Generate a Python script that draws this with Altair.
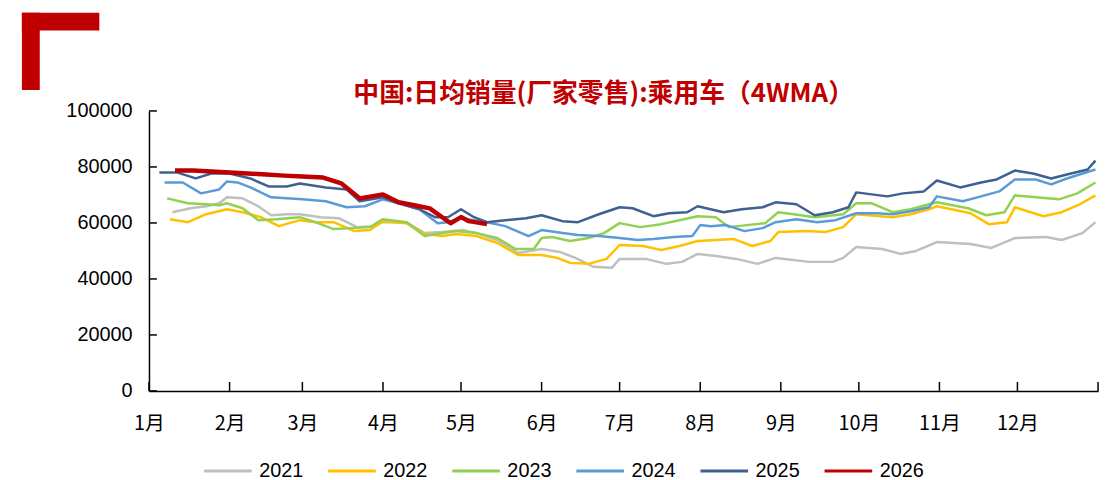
import altair as alt
import pandas as pd

# ---------------- data (day offset from 1 Jan, weekly 4WMA value) ----------------
years = ["2021", "2022", "2023", "2024", "2025", "2026"]
colors = ["#BFBFBF", "#FFC000", "#92D050", "#5B9BD5", "#3E6191", "#C00000"]

d2021 = [9, 16, 22, 27, 30, 36, 42, 47, 53, 58, 66, 73, 80, 86, 90, 99, 106, 113, 121, 126,
         134, 142, 151, 158, 164, 171, 178, 181, 191, 199, 205, 211, 218, 226, 234, 241, 254, 263, 267, 272,
         282, 289, 295, 303, 316, 324, 333, 345, 351, 359, 364]
v2021 = [63830, 65250, 65960, 67020, 69150, 68790, 65960, 62760, 63120, 63120, 62060, 61700, 58510, 58860,
         60280, 60280, 56380, 56740, 57450, 56380, 53900, 49290, 50710, 49640, 47520, 44330, 43970, 47160,
         47160, 45390, 46100, 48940, 48230, 47160, 45390, 47520, 46100, 46100, 47520, 51420, 50710, 48940,
         50000, 53190, 52480, 51060, 54610, 54960, 53900, 56380, 60280]

d2022 = [8, 15, 22, 30, 36, 43, 50, 58, 64, 71, 79, 85, 90, 99, 106, 113, 118, 126, 134, 142,
         151, 157, 162, 169, 176, 181, 190, 197, 204, 211, 218, 225, 232, 239, 242, 253, 260, 267, 272, 286,
         293, 300, 303, 316, 323, 330, 333, 344, 351, 358, 364]
v2022 = [61350, 60280, 63120, 64890, 63830, 62060, 58860, 60990, 60280, 60280, 57090, 57450, 60640, 59930,
         56030, 55320, 56030, 55320, 52840, 48580, 48580, 47520, 45740, 45390, 47160, 52130, 51770, 50350,
         51770, 53540, 53900, 54250, 51770, 53540, 56740, 57090, 56740, 58510, 63120, 62060, 63120, 64890,
         65960, 63470, 59570, 60280, 65600, 62410, 63830, 66670, 69860]

d2023 = [7, 15, 22, 27, 30, 36, 42, 49, 58, 64, 71, 78, 85, 90, 99, 106, 113, 118, 126, 134,
         141, 148, 151, 155, 162, 169, 175, 181, 189, 197, 204, 211, 218, 223, 230, 237, 242, 248, 256, 267,
         272, 278, 286, 293, 300, 303, 315, 322, 329, 333, 350, 357, 364]
v2023 = [68790, 67020, 66670, 66310, 67020, 65250, 60990, 61350, 62060, 60280, 57800, 58150, 58510, 61350,
         60280, 55320, 56380, 57090, 56380, 54610, 50710, 50710, 54610, 54960, 53540, 54610, 56380, 59930,
         58510, 59570, 60990, 62410, 62060, 58510, 59220, 59930, 63830, 63120, 62060, 63120, 67020, 67020,
         63830, 64890, 66670, 67370, 65250, 62760, 63830, 69860, 68440, 70570, 74470]

d2024 = [6, 13, 20, 27, 30, 34, 39, 47, 59, 68, 76, 83, 90, 96, 104, 111, 115, 120, 130, 137,
         146, 151, 159, 165, 173, 181, 188, 194, 202, 209, 212, 216, 222, 229, 236, 241, 249, 257, 264, 272,
         280, 286, 293, 300, 303, 313, 320, 327, 333, 341, 347, 353, 364]
v2024 = [74470, 74470, 70570, 71980, 74820, 74470, 72690, 69150, 68440, 67730, 65600, 65960, 68440, 67020,
         64890, 59930, 60280, 61700, 60280, 58860, 55320, 57450, 56380, 55670, 55320, 54610, 53900, 54250,
         54960, 55320, 59230, 58860, 59230, 57090, 58150, 60280, 61350, 60280, 60990, 63470, 63470, 63120,
         64180, 65600, 69500, 67730, 69500, 71270, 75530, 75530, 73760, 75880, 79080]

d2025 = [4, 11, 18, 24, 31, 39, 46, 53, 58, 63, 68, 76, 81, 90, 96, 104, 110, 115, 120, 125,
         130, 137, 145, 151, 159, 165, 173, 181, 186, 194, 200, 207, 211, 221, 228, 236, 241, 249, 256, 263,
         269, 272, 284, 290, 298, 303, 312, 320, 326, 333, 340, 347, 353, 361, 364]
v2025 = [78000, 78000, 75900, 77660, 77660, 75900, 73050, 73050, 74110, 73400, 72700, 71980, 67730, 69150,
         67020, 64890, 62060, 62060, 64890, 62060, 60280, 60990, 61700, 62760, 60640, 60280, 63120, 65600,
         65240, 62410, 63470, 63830, 65960, 63830, 64890, 65600, 67370, 66670, 62760, 63830, 65600, 70920,
         69500, 70570, 71270, 75180, 72690, 74470, 75530, 78720, 77660, 75880, 77300, 79080, 82270]

d2026 = [10, 17, 24, 31, 38, 45, 52, 59, 67, 74, 81, 90, 96, 102, 108, 116, 120, 123, 130]
v2026 = [78720, 78700, 78400, 78000, 77700, 77300, 76900, 76600, 76200, 74100, 68790, 70200, 67400, 66300,
         65200, 59900, 62100, 60640, 59570]

month_starts = ["2021-01-01", "2021-02-01", "2021-03-01", "2021-04-01", "2021-05-01", "2021-06-01",
                "2021-07-01", "2021-08-01", "2021-09-01", "2021-10-01", "2021-11-01", "2021-12-01",
                "2022-01-01"]
y_ticks = [0, 20000, 40000, 60000, 80000, 100000]
title_text = "中国:日均销量(厂家零售):乘用车（4WMA）"

# ---------------- table ----------------
base = pd.Timestamp("2021-01-01")
rows = []
for yr, ds, vs in zip(years, [d2021, d2022, d2023, d2024, d2025, d2026],
                      [v2021, v2022, v2023, v2024, v2025, v2026]):
    for d, v in zip(ds, vs):
        rows.append({"year": yr, "date": (base + pd.Timedelta(days=d)).strftime("%Y-%m-%d"), "value": v})
df = pd.DataFrame(rows)
df_old = df[df["year"] != "2026"]
df_new = df[df["year"] == "2026"]

W, H = 956, 282
CJK = "Noto Sans CJK SC, Noto Sans, sans-serif"
LAT = "Liberation Sans, Arial, sans-serif"

x_scale = alt.Scale(type="utc",
                    domain=[alt.DateTime(year=2021, month=1, date=1, utc=True),
                            alt.DateTime(year=2022, month=1, date=1, utc=True)])
y_scale = alt.Scale(domain=[0, 100000], nice=False, zero=True)

x_axis = alt.Axis(values=[alt.DateTime(year=2021, month=m, date=1, utc=True) for m in range(1, 13)],
                  labelExpr="utcFormat(datum.value, '%-m') + '月'", title=None, grid=False,
                  ticks=False, tickSize=0, labelFlush=False, labelOverlap=False,
                  labelPadding=23, labelFont=CJK, labelFontSize=20, labelColor="#000000",
                  domainColor="#000000", domainWidth=1.5)
y_axis = alt.Axis(values=y_ticks, format="d", title=None, grid=False, ticks=False, tickSize=0,
                  labelPadding=17, labelFont=LAT,
                  labelFontSize=20, labelColor="#000000", domainColor="#000000", domainWidth=1.5)

legend = alt.Legend(orient="none", legendX=54, legendY=337, direction="horizontal", columns=6,
                    title=None, symbolType="stroke", symbolSize=2304, symbolStrokeWidth=3,
                    labelFont=LAT, labelFontSize=20, labelColor="#000000", labelOffset=6,
                    columnPadding=18, symbolOpacity=1)

X = alt.X("date:T", scale=x_scale, axis=x_axis)
Y = alt.Y("value:Q", scale=y_scale, axis=y_axis)
C = alt.Color("year:N", scale=alt.Scale(domain=years, range=colors), legend=legend)

lines_old = alt.Chart(df_old).mark_line(strokeWidth=2.5, strokeJoin="round").encode(x=X, y=Y, color=C)
lines_new = alt.Chart(df_new).mark_line(strokeWidth=4.5, strokeJoin="round").encode(x=X, y=Y, color=C)

xticks = alt.Chart(pd.DataFrame({"date": month_starts})).mark_rule(color="#000000", strokeWidth=1.5).encode(
    x=X, y=alt.value(H), y2=alt.value(H - 9))
yticks = alt.Chart(pd.DataFrame({"value": y_ticks})).mark_rule(color="#000000", strokeWidth=1.5).encode(
    y=Y, x=alt.value(0), x2=alt.value(8))

one = pd.DataFrame({"k": [0]})
deco_h = alt.Chart(one).mark_rect(color="#C00000").encode(
    x=alt.value(-128), x2=alt.value(-50), y=alt.value(-99), y2=alt.value(-81))
deco_v = alt.Chart(one).mark_rect(color="#C00000").encode(
    x=alt.value(-128), x2=alt.value(-110), y=alt.value(-99), y2=alt.value(-21))

title = alt.Chart(pd.DataFrame({"t": [title_text]})).mark_text(
    font="Noto Sans CJK SC", fontSize=26, fontWeight="bold", color="#C00000",
    align="center", baseline="middle").encode(
    text="t:N", x=alt.value(458), y=alt.value(-17))

chart = alt.layer(lines_old, lines_new, xticks, yticks, deco_h, deco_v, title).properties(
    width=W, height=H,
    padding={"left": 142, "top": 102, "right": 6, "bottom": 88},
    autosize=alt.AutoSizeParams(type="none"),
    background="#FFFFFF",
).configure_view(stroke=None)

chart.save("out.html", embed_options={"renderer": "svg", "actions": False})
